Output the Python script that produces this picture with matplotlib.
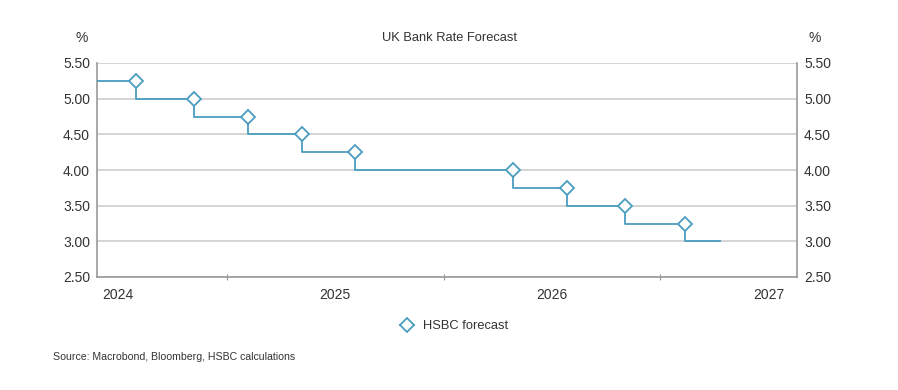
import datetime as dt
import matplotlib
matplotlib.use("Agg")
import matplotlib.pyplot as plt
import matplotlib.dates as mdates
from matplotlib.lines import Line2D

# ---- data ----
start_date = dt.date(2024, 5, 27)
end_date = dt.date(2027, 8, 19)
meeting_dates = [dt.date(2024, 8, 1), dt.date(2024, 11, 7), dt.date(2025, 2, 6),
                 dt.date(2025, 5, 8), dt.date(2025, 8, 5), dt.date(2026, 4, 27),
                 dt.date(2026, 7, 28), dt.date(2026, 11, 2), dt.date(2027, 2, 11)]
rates_before = [5.25, 5.00, 4.75, 4.50, 4.25, 4.00, 3.75, 3.50, 3.25]
final_rate = 3.00
line_end = dt.date(2027, 4, 11)
year_labels = ["2024", "2025", "2026", "2027"]
y_ticks = [2.50, 3.00, 3.50, 4.00, 4.50, 5.00, 5.50]

plt.rcParams['font.family'] = ['Liberation Sans', 'DejaVu Sans']
TXT = '#333333'
LINE = '#4a9dc0'

fig = plt.figure(figsize=(8.98, 3.90), dpi=100)
W, H = 898, 390
ax = fig.add_axes([97 / W, 1 - 277 / H, (797 - 97) / W, (277 - 63) / H])

# step line
xs = [start_date] + meeting_dates + [line_end]
ys = rates_before + [final_rate, final_rate]
ax.step(xs, ys, where='post', color=LINE, lw=1.3, zorder=3)
ax.plot(meeting_dates, rates_before, ls='none', marker='D', ms=7,
        mfc='white', mec=LINE, mew=1.3, zorder=4)

ax.set_xlim(start_date, end_date)
ax.set_ylim(2.5, 5.5)
ax.set_yticks(y_ticks)
ax.set_yticklabels([f"{v:.2f}" for v in y_ticks])
ax.yaxis.grid(True, color='#d4d4d4', lw=1.4, zorder=0)
ax.tick_params(axis='y', length=0, labelsize=10, colors=TXT, pad=5,
               labelright=True, right=False)

ax.xaxis.set_major_locator(mdates.YearLocator())
ax.xaxis.set_major_formatter(plt.NullFormatter())
ax.set_xticks([dt.date(int(y), 7, 2) for y in year_labels], minor=True)
ax.set_xticklabels(year_labels, minor=True)
ax.tick_params(axis='x', which='major', length=4, color='#999999', direction='inout')
ax.tick_params(axis='x', which='minor', length=0, labelsize=10, colors=TXT, pad=8)

for s in ['left', 'bottom', 'right']:
    ax.spines[s].set_color('#999999')
    ax.spines[s].set_linewidth(1.2)
ax.spines['top'].set_visible(False)

fig.text(449 / W, 1 - 38 / H, "UK Bank Rate Forecast", ha='center', va='center',
         fontsize=9.3, color=TXT)
fig.text(82 / W, 1 - 38 / H, "%", ha='center', va='center', fontsize=10, color=TXT)
fig.text(815 / W, 1 - 38 / H, "%", ha='center', va='center', fontsize=10, color=TXT)

handle = Line2D([], [], color=LINE, lw=1.3, marker='D', ms=7, mfc='white',
                mec=LINE, mew=1.3)
fig.legend([handle], ["HSBC forecast"], loc='center', bbox_to_anchor=(454 / W, 1 - 326 / H),
           frameon=False, fontsize=9.3, handlelength=1.1, handletextpad=0.7,
           labelcolor=TXT)

fig.text(53 / W, 1 - 357 / H, "Source: Macrobond, Bloomberg, HSBC calculations",
         ha='left', va='center', fontsize=7.6, color=TXT)

fig.savefig("out.png", dpi=100, facecolor='white')
